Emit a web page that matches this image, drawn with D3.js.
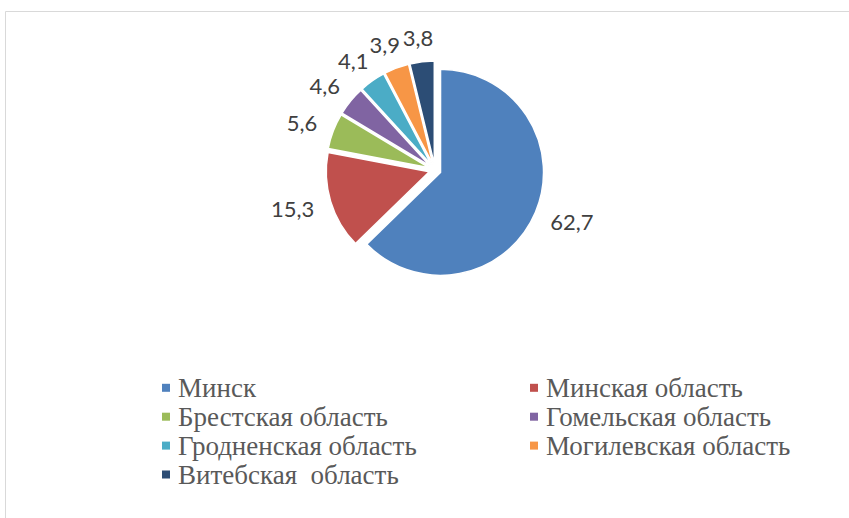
<!DOCTYPE html>
<html>
<head>
<meta charset="utf-8">
<script src="https://cdn.jsdelivr.net/npm/d3@7"></script>
<style>
  html, body { margin: 0; padding: 0; background: #fff; }
  svg { display: block; }
</style>
</head>
<body>
<svg id="chart" width="849" height="518"></svg>
<script>
// Regions and their shares, %
const regions = ["Минск", "Минская область", "Брестская область", "Гомельская область",
                 "Гродненская область", "Могилевская область", "Витебская  область"];
const shares = [62.7, 15.3, 5.6, 4.6, 4.1, 3.9, 3.8];
const shareLabels = ["62,7", "15,3", "5,6", "4,6", "4,1", "3,9", "3,8"];
const palette = ["#4F81BD", "#C0504D", "#9BBB59", "#8064A2", "#4BACC6", "#F79646", "#2C4D75"];

const W = 849, H = 518;
const svg = d3.select("#chart");

// chart area frame (only top and left edges fall inside the view)
svg.append("path")
  .attr("d", `M5.5,${H} V11.5 H${W}`)
  .attr("fill", "none")
  .attr("stroke", "#d9d9d9")
  .attr("stroke-width", 1);

const cx = 435, cy = 170, radius = 103, explode = 6;

const color = d3.scaleOrdinal().domain(regions).range(palette);
const pie = d3.pie().sort(null).value(d => d.value);
const arc = d3.arc().innerRadius(0).outerRadius(radius);

const data = regions.map((name, i) => ({ name, value: shares[i], label: shareLabels[i] }));
const arcs = pie(data);

const g = svg.append("g").attr("transform", `translate(${cx},${cy})`);

const mid = a => (a.startAngle + a.endAngle) / 2;
const dir = a => [Math.sin(mid(a)), -Math.cos(mid(a))];

g.selectAll("path.slice")
  .data(arcs)
  .join("path")
  .attr("class", "slice")
  .attr("d", arc)
  .attr("fill", d => color(d.data.name))
  .attr("stroke", "#fff")
  .attr("stroke-width", 1.5)
  .attr("transform", d => {
    const [ux, uy] = dir(d);
    return `translate(${ux * explode},${uy * explode})`;
  });

// value labels outside each slice
const labels = g.selectAll("text.val")
  .data(arcs)
  .join("text")
  .attr("class", "val")
  .attr("text-anchor", "middle")
  .attr("dominant-baseline", "central")
  .attr("font-family", "Lato, 'Open Sans', sans-serif")
  .attr("font-size", 22)
  .attr("fill", "#404040")
  .text(d => d.data.label);

labels.each(function(d) {
  const b = this.getBBox();
  const [ux, uy] = dir(d);
  const rr = radius + explode + 18;
  const x = ux * rr + ux * b.width / 2;
  const y = uy * rr + uy * b.height * 0.25;
  d3.select(this).attr("x", x).attr("y", y);
});

// legend, two columns
const legend = svg.append("g");
const colX = [162, 530];
const rowY = d3.scaleLinear().domain([0, 3]).range([397.3, 484]);

const items = legend.selectAll("g.item")
  .data(data)
  .join("g")
  .attr("class", "item")
  .attr("transform", (d, i) => `translate(${colX[i % 2]},${rowY(Math.floor(i / 2))})`);

items.append("rect")
  .attr("x", 0).attr("y", -13.5)
  .attr("width", 8).attr("height", 8)
  .attr("fill", d => color(d.name));

items.append("text")
  .attr("x", 16)
  .attr("y", 0)
  .attr("font-family", "'Liberation Serif', 'Times New Roman', serif")
  .attr("font-size", 27)
  .attr("fill", "#595959")
  .style("white-space", "pre")
  .text(d => d.name);
</script>
</body>
</html>
